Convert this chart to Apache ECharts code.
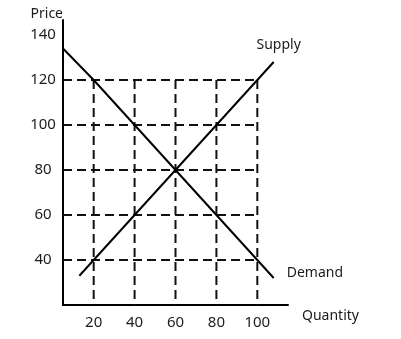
<!DOCTYPE html>
<html>
<head>
<meta charset="utf-8">
<script src="https://cdn.jsdelivr.net/npm/echarts@6/dist/echarts.min.js"></script>
<style>
html,body{margin:0;padding:0;background:#fff;}
#chart{width:401px;height:339px;}
</style>
</head>
<body>
<div id="chart"></div>
<script>
// ---- data ----
const quantityTicks = [20, 40, 60, 80, 100];
const priceTicks = [40, 60, 80, 100, 120, 140];
const gridQuantities = [20, 40, 60, 80, 100];
const gridPrices = [40, 60, 80, 100, 120];
const demandQ = [5, 20, 40, 60, 80, 100, 108];
const demandP = [134, 120, 100, 80, 60, 40, 32];
const supplyQ = [13, 20, 40, 60, 80, 100, 108];
const supplyP = [33, 40, 60, 80, 100, 120, 128];
const axisMinQ = 5, axisMaxQ = 115;
const axisMinP = 20, axisMaxP = 146.67;

// ---- build ----
const FONT = 'Noto Sans';
const TXT = '#1c1c1c';
const dash = { color: '#111', width: 2, type: [9, 5] };
const series = [];
gridPrices.forEach(p => {
  series.push({ type: 'line', data: [[axisMinQ, p], [Math.max(...gridQuantities), p]],
    symbol: 'none', lineStyle: dash, silent: true, z: 1 });
});
gridQuantities.forEach(q => {
  series.push({ type: 'line', data: [[q, Math.max(...gridPrices)], [q, axisMinP]],
    symbol: 'none', lineStyle: dash, silent: true, z: 1 });
});
function curve(name, qs, ps) {
  return {
    name, type: 'line', symbol: 'none', z: 3,
    lineStyle: { color: '#000', width: 2 },
    data: qs.map((q, i) => [q, ps[i]])
  };
}
series.push(curve('Supply', supplyQ, supplyP));
series.push(curve('Demand', demandQ, demandP));

const chart = echarts.init(document.getElementById('chart'));
chart.setOption({
  animation: false,
  grid: { left: 63, right: 113, top: 20, bottom: 34 },
  xAxis: {
    type: 'value', min: axisMinQ, max: axisMaxQ, interval: 5,
    name: 'Quantity', nameLocation: 'end', nameGap: 14,
    nameTextStyle: { color: TXT, fontFamily: FONT, fontSize: 14, align: 'left', verticalAlign: 'top', padding: [4, 0, 0, 0] },
    axisLine: { lineStyle: { color: '#000', width: 2 } },
    axisTick: { show: false }, splitLine: { show: false },
    axisLabel: { color: TXT, fontFamily: FONT, fontSize: 15, margin: 10,
      formatter: v => quantityTicks.includes(v) ? String(v) : '' }
  },
  yAxis: {
    type: 'value', min: axisMinP, max: axisMaxP, interval: 20,
    name: 'Price', nameLocation: 'end', nameGap: -1,
    nameTextStyle: { color: TXT, fontFamily: FONT, fontSize: 14, align: 'right', verticalAlign: 'bottom' },
    axisLine: { lineStyle: { color: '#000', width: 2 } },
    axisTick: { show: false }, splitLine: { show: false },
    axisLabel: { color: TXT, fontFamily: FONT, fontSize: 15, margin: 20, align: 'center',
      showMaxLabel: false,
      formatter: v => priceTicks.includes(v) ? String(v) : '' }
  },
  series
});

// curve name labels placed next to each curve's last point
const sEnd = chart.convertToPixel({ gridIndex: 0 }, [supplyQ[supplyQ.length - 1], supplyP[supplyP.length - 1]]);
const dEnd = chart.convertToPixel({ gridIndex: 0 }, [demandQ[demandQ.length - 1], demandP[demandP.length - 1]]);
chart.setOption({
  graphic: [
    { type: 'text', x: sEnd[0] + 5, y: sEnd[1] - 17, z: 10,
      style: { text: 'Supply', fill: TXT, font: '14px "Noto Sans"', align: 'center', verticalAlign: 'middle' } },
    { type: 'text', x: dEnd[0] + 13, y: dEnd[1] - 5, z: 10,
      style: { text: 'Demand', fill: TXT, font: '14px "Noto Sans"', align: 'left', verticalAlign: 'middle' } }
  ]
});
</script>
</body>
</html>
